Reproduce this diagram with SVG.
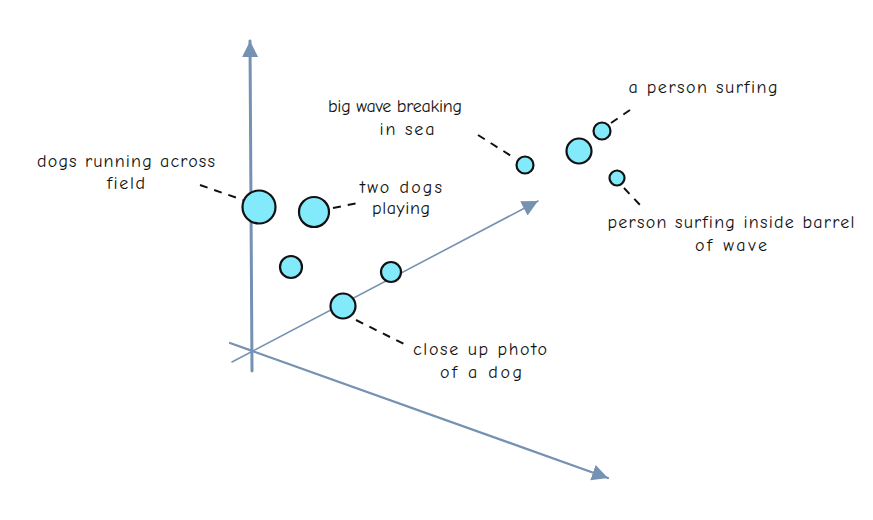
<svg xmlns="http://www.w3.org/2000/svg" width="873" height="520" viewBox="0 0 873 520">
<style>
.axis{stroke:#7592b2;fill:none;stroke-linecap:round}
.pt{fill:#82eafa;stroke:#111;stroke-width:2.2}
.lead{stroke:#111;stroke-width:2;stroke-dasharray:8 7;fill:none}
.lbl{font-family:"Comic Neue","Liberation Sans",sans-serif;font-size:18px;fill:#111;text-anchor:middle}
</style>
<defs>
<marker id="ah" markerUnits="userSpaceOnUse" markerWidth="18" markerHeight="18" refX="16" refY="8" orient="auto">
<path d="M0,0 L16,8 L0,16 Z" fill="#7592b2"/>
</marker>
</defs>
<rect width="873" height="520" fill="#fff"/>
<g id="axes">
<line class="axis" x1="252" y1="371" x2="250" y2="41" stroke-width="3" marker-end="url(#ah)"/>
<line class="axis" x1="232" y1="362" x2="538" y2="201" stroke-width="1.6" marker-end="url(#ah)"/>
<line class="axis" x1="230" y1="343" x2="608" y2="478" stroke-width="2.2" marker-end="url(#ah)"/>
</g>
<g id="connectors">
<line class="lead" x1="200" y1="185" x2="243" y2="200"/>
<line class="lead" x1="333" y1="208" x2="358" y2="203"/>
<line class="lead" x1="478" y1="135" x2="516" y2="159"/>
<line class="lead" x1="611" y1="123" x2="630" y2="110"/>
<line class="lead" x1="624" y1="188" x2="641" y2="206"/>
<line class="lead" x1="356" y1="320" x2="406" y2="345"/>
</g>
<g id="n1"><circle class="pt" cx="259" cy="207" r="16.5"/></g>
<g id="n2"><circle class="pt" cx="314" cy="212" r="15"/></g>
<g id="n3"><circle class="pt" cx="291" cy="267" r="11"/></g>
<g id="n4"><circle class="pt" cx="391" cy="272" r="10"/></g>
<g id="n5"><circle class="pt" cx="343" cy="306" r="12.5"/></g>
<g id="n6"><circle class="pt" cx="525" cy="165" r="8.5"/></g>
<g id="n7"><circle class="pt" cx="579" cy="151" r="12.5"/></g>
<g id="n8"><circle class="pt" cx="602" cy="131" r="8.5"/></g>
<g id="n9"><circle class="pt" cx="617" cy="178" r="7.5"/></g>
<g id="labels">
<text class="lbl" x="126" y="167" textLength="178" lengthAdjust="spacing">dogs running across</text>
<text class="lbl" x="126" y="189" textLength="38" lengthAdjust="spacing">field</text>
<text class="lbl" x="401" y="193" textLength="82" lengthAdjust="spacing">two dogs</text>
<text class="lbl" x="401" y="214" textLength="58" lengthAdjust="spacing">playing</text>
<text class="lbl" x="395" y="112" textLength="134" lengthAdjust="spacing">big wave breaking</text>
<text class="lbl" x="407" y="135" textLength="55" lengthAdjust="spacing">in sea</text>
<text class="lbl" x="703" y="93" textLength="149" lengthAdjust="spacing">a person surfing</text>
<text class="lbl" x="731" y="228" textLength="247" lengthAdjust="spacing">person surfing inside barrel</text>
<text class="lbl" x="731" y="251" textLength="72" lengthAdjust="spacing">of wave</text>
<text class="lbl" x="480" y="355" textLength="134" lengthAdjust="spacing">close up photo</text>
<text class="lbl" x="481" y="378" textLength="82" lengthAdjust="spacing">of a dog</text>
</g>
</svg>
